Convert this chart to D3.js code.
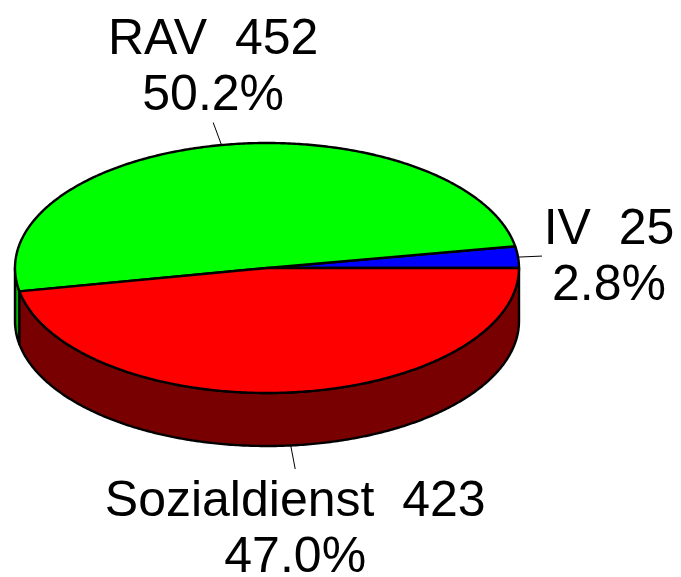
<!DOCTYPE html>
<html>
<head>
<meta charset="utf-8">
<script src="https://cdn.jsdelivr.net/npm/d3@7"></script>
<style>
  html, body { margin: 0; padding: 0; background: #fff; }
  svg { display: block; }
  text { font-family: "Liberation Sans", Arial, Helvetica, sans-serif; }
</style>
</head>
<body>
<svg id="chart" width="681" height="577"></svg>
<script>
// Data (counter-clockwise from 3 o'clock)
const categories = ["IV", "RAV", "Sozialdienst"];
const values = [25, 452, 423];
const topColors = ["#0000ff", "#00ff00", "#ff0000"];
const sideColors = ["#000080", "#00b400", "#780000"];

const W = 681, H = 577;
const cx = 267, cy = 268, rx = 252, ry = 125, depth = 53;

const svg = d3.select("#chart");
const total = d3.sum(values);
const pie = d3.pie().sort(null).startAngle(0).endAngle(2 * Math.PI);
const arcs = pie(values).map((d, i) => ({
  a0: d.startAngle, a1: d.endAngle, i,
  name: categories[i], value: values[i],
  pct: (values[i] / total * 100).toFixed(1) + "%"
}));

const px = a => cx + rx * Math.cos(a);
const py = a => cy - ry * Math.sin(a);
const line = d3.line();

function arcPts(a0, a1, dy) {
  const n = Math.max(2, Math.ceil(Math.abs(a1 - a0) / 0.01));
  return d3.range(n + 1).map(k => {
    const a = a0 + (a1 - a0) * k / n;
    return [px(a), py(a) + dy];
  });
}

// Side walls (visible front half: angles between PI and 2PI)
const sideG = svg.append("g");
arcs.forEach(d => {
  const s = Math.max(d.a0, Math.PI), e = Math.min(d.a1, 2 * Math.PI);
  if (e <= s) return;
  const pts = arcPts(s, e, 0).concat(arcPts(e, s, depth));
  sideG.append("path")
    .attr("d", line(pts) + "Z")
    .attr("fill", sideColors[d.i])
    .attr("stroke", "#000")
    .attr("stroke-width", 2.4)
    .attr("stroke-linejoin", "round");
});

// Top faces
const topG = svg.append("g");
arcs.forEach(d => {
  const pts = [[cx, cy]].concat(arcPts(d.a0, d.a1, 0));
  topG.append("path")
    .attr("d", line(pts) + "Z")
    .attr("fill", topColors[d.i])
    .attr("stroke", "#000")
    .attr("stroke-width", 2.4)
    .attr("stroke-linejoin", "round");
});

// Leader lines and labels
const labG = svg.append("g");
const fs = 50, lh = 57;
arcs.forEach(d => {
  const m = (d.a0 + d.a1) / 2;
  const onFront = Math.sin(m) < 0;
  const sx = px(m), sy = py(m) + (onFront ? depth : 0);
  let vx = rx * Math.cos(m), vy = -ry * Math.sin(m);
  const L = Math.hypot(vx, vy);
  vx = vx / L * 24; vy = vy / L * 24;
  const ex = sx + vx, ey = sy + vy;
  labG.append("line")
    .attr("x1", sx).attr("y1", sy).attr("x2", ex).attr("y2", ey)
    .attr("stroke", "#000").attr("stroke-width", 1);

  let tx, b1;
  if (Math.abs(vx) > Math.abs(vy)) {        // side label
    tx = ex + (vx > 0 ? 67 : -67);
    b1 = ey - 12;
  } else if (vy < 0) {                       // above
    tx = ex; b1 = ey - 12 - lh;
  } else {                                   // below
    tx = ex; b1 = ey + 47;
  }
  const t = labG.append("text")
    .attr("text-anchor", "middle")
    .attr("font-size", fs)
    .attr("fill", "#000");
  t.append("tspan").attr("x", tx).attr("y", b1)
    .attr("xml:space", "preserve").style("white-space", "pre")
    .text(d.name + "  " + d.value);
  t.append("tspan").attr("x", tx).attr("y", b1 + lh - 1).text(d.pct);
});
</script>
</body>
</html>
